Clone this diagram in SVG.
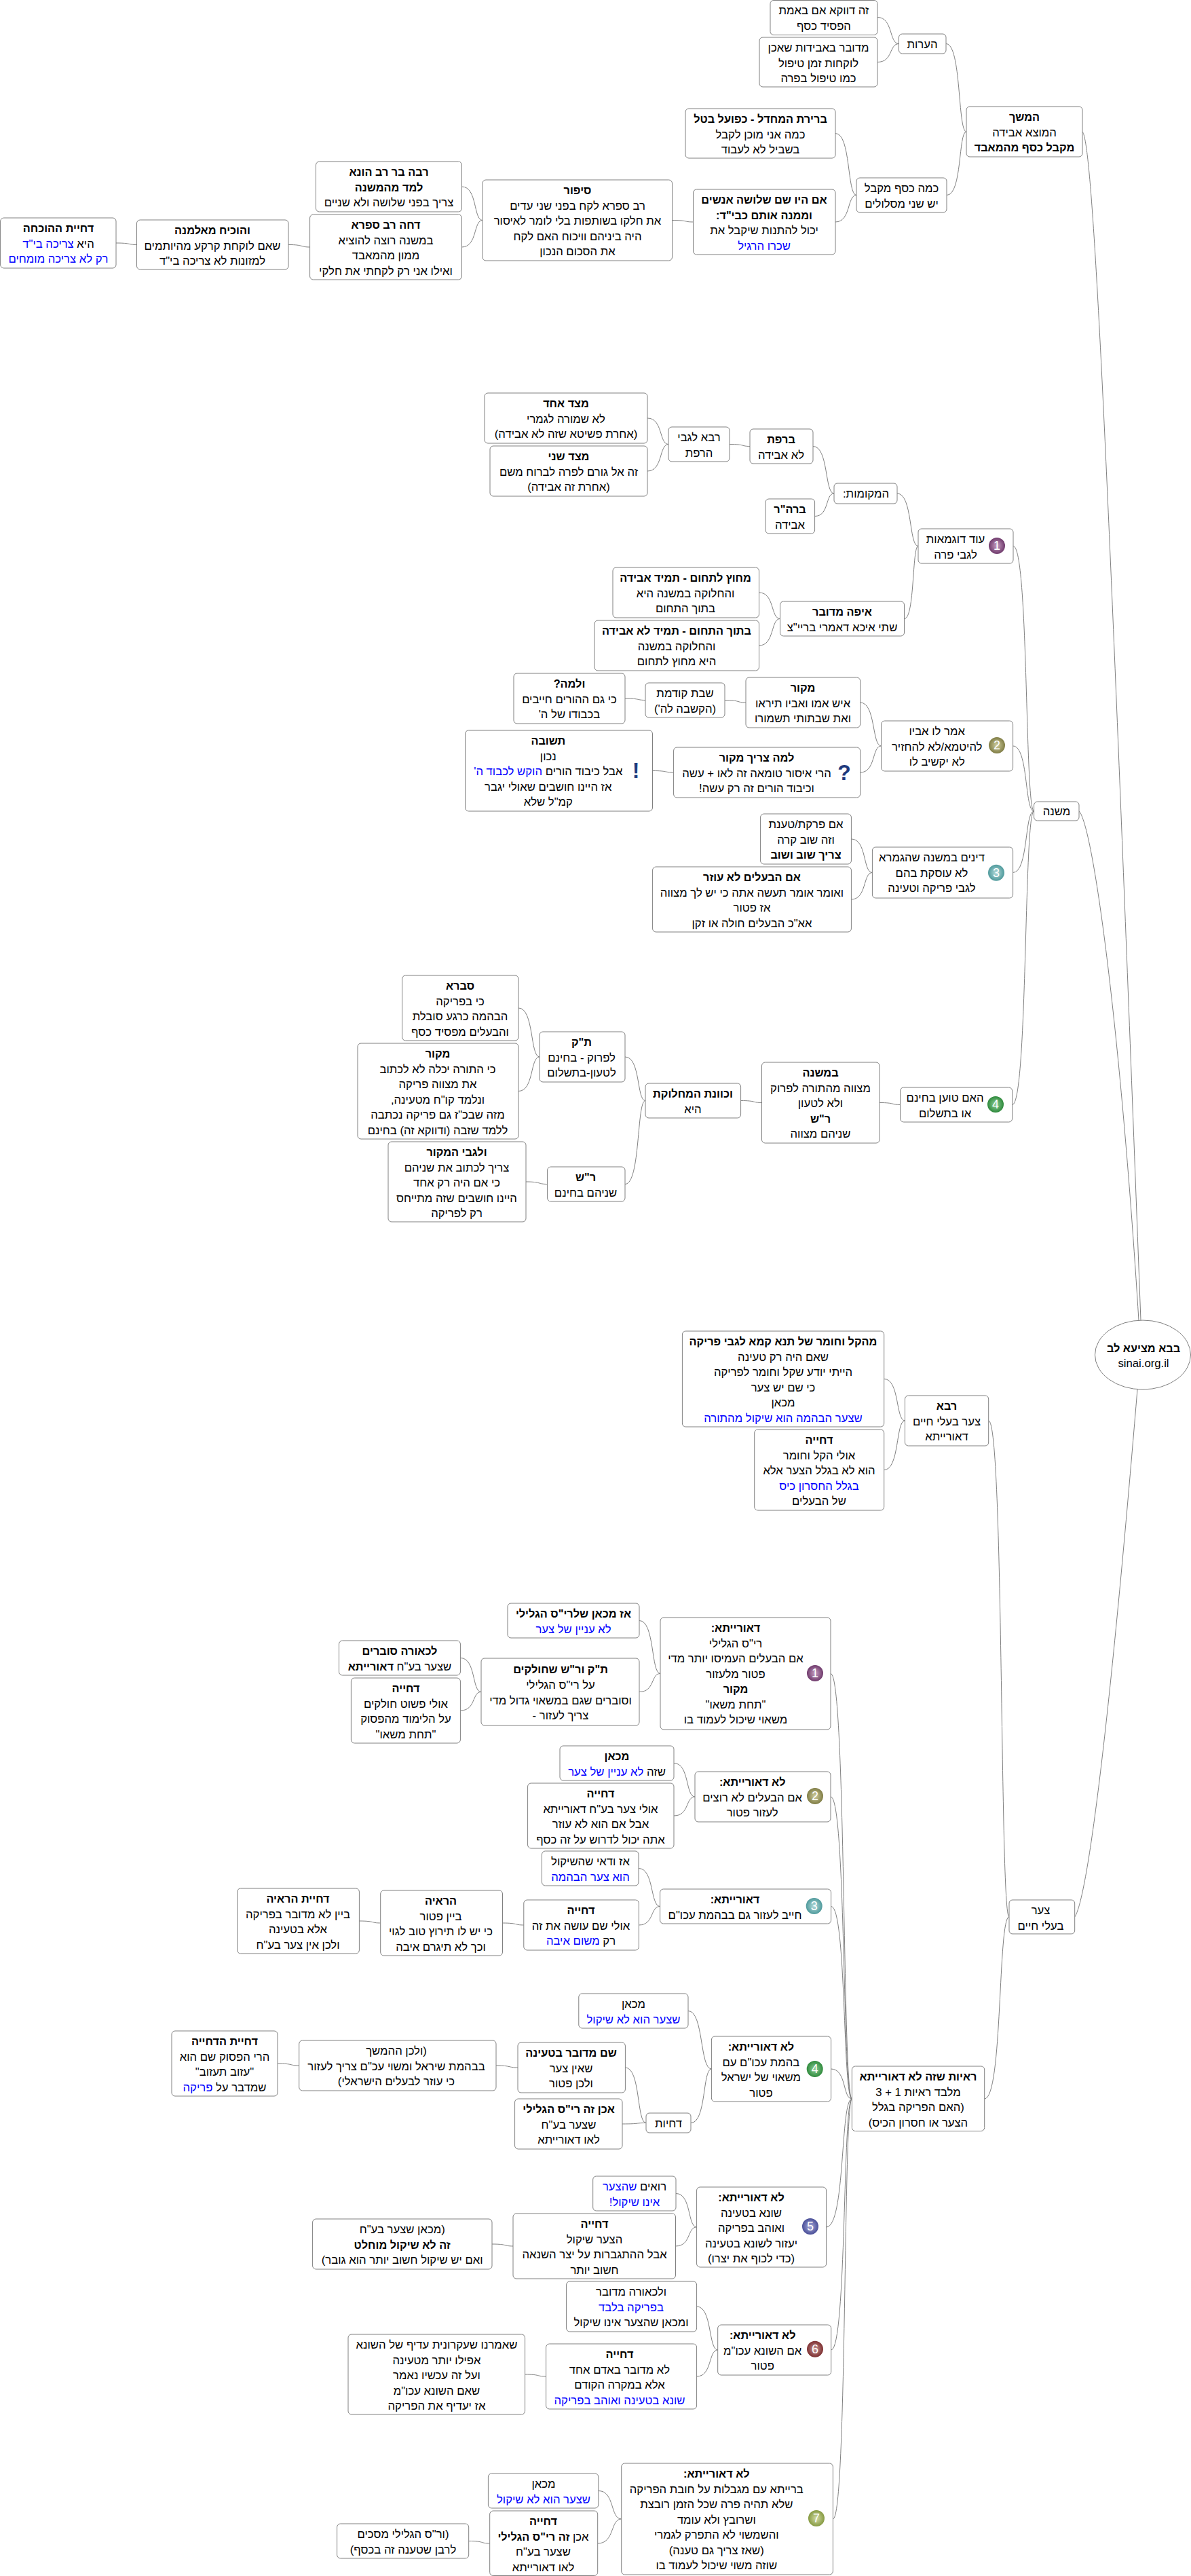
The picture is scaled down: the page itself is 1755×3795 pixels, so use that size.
<svg xmlns="http://www.w3.org/2000/svg" width="1755" height="3795" viewBox="0 0 1755 3795">
<style>
text{font-family:"Liberation Sans",Arial,sans-serif;font-size:16.7px;text-anchor:middle;direction:rtl;fill:#000}
rect.box,ellipse.box{fill:#fff;stroke:#808080;stroke-width:1}
.h{font-weight:bold;font-size:16.3px}
.u{fill:#0000ff}
#connectors path{fill:none;stroke:#808080;stroke-width:1}
text.d{font-size:18px;fill:#fff;direction:ltr}
text.m{font-size:32px;font-weight:bold;fill:#1f3a7d;direction:ltr}
</style>
<defs>
<radialGradient id="g1"><stop offset="0" stop-color="#c9a0c4"/><stop offset="1" stop-color="#6f3a6c"/></radialGradient>
<radialGradient id="g2"><stop offset="0" stop-color="#d0cfa0"/><stop offset="1" stop-color="#807d45"/></radialGradient>
<radialGradient id="g3"><stop offset="0" stop-color="#b5dcdc"/><stop offset="1" stop-color="#4f9a9c"/></radialGradient>
<radialGradient id="g4"><stop offset="0" stop-color="#8fd09a"/><stop offset="1" stop-color="#2f8a3c"/></radialGradient>
<radialGradient id="g5"><stop offset="0" stop-color="#a9addc"/><stop offset="1" stop-color="#4a4f98"/></radialGradient>
<radialGradient id="g6"><stop offset="0" stop-color="#c99a9a"/><stop offset="1" stop-color="#7d2f30"/></radialGradient>
<radialGradient id="g7"><stop offset="0" stop-color="#d3dca5"/><stop offset="1" stop-color="#869a42"/></radialGradient>
</defs>
<g id="connectors">
<path d="M1293 25.5C1316 25.5 1310 64.5 1324.5 64.5"/>
<path d="M1293 91.5C1316 91.5 1310 64.5 1324.5 64.5"/>
<path d="M1394 64.5C1417 64.5 1411 194 1424 194"/>
<path d="M1231 196.5C1254 196.5 1248 287.5 1262 287.5"/>
<path d="M1231 327C1254 327 1248 287.5 1262 287.5"/>
<path d="M1395 287.5C1418 287.5 1412 194 1424 194"/>
<path d="M990.5 324.5C1013.5 324.5 1007.5 327 1021.5 327"/>
<path d="M680.5 275C703.5 275 697.5 324.5 711 324.5"/>
<path d="M680.5 364C703.5 364 697.5 324.5 711 324.5"/>
<path d="M425 360.5C448 360.5 442 364 456.6 364"/>
<path d="M171 358C194 358 188 360.5 201.5 360.5"/>
<path d="M1595 194C1610 210 1630 600 1681 1945"/>
<path d="M1590 1195C1610 1215 1650 1500 1678 1945"/>
<path d="M1583.7 2824C1600 2800 1630 2600 1676 2047"/>
<path d="M954 616C977 616 971 654.5 985 654.5"/>
<path d="M954 694C977 694 971 654.5 985 654.5"/>
<path d="M1075 654.5C1098 654.5 1092 657.5 1105 657.5"/>
<path d="M1198 657.5C1221 657.5 1215 727 1229 727"/>
<path d="M1200.6 760.5C1222 760.5 1216 727 1229 727"/>
<path d="M1322 727C1345 727 1339 804.5 1353 804.5"/>
<path d="M1332.6 911.5C1348 911.5 1344 804.5 1353 804.5"/>
<path d="M1118.5 873C1141.5 873 1135.5 911.5 1149.5 911.5"/>
<path d="M1118.5 951C1141.5 951 1135.5 911.5 1149.5 911.5"/>
<path d="M1493 804.5C1516 804.5 1510 1195 1523.6 1195"/>
<path d="M921 1029C944 1029 938 1031.5 951 1031.5"/>
<path d="M1068 1031.5C1091 1031.5 1085 1035 1099 1035"/>
<path d="M1267.6 1035C1290.6 1035 1284.6 1099 1298.6 1099"/>
<path d="M1267.6 1138C1290.6 1138 1284.6 1099 1298.6 1099"/>
<path d="M961.6 1135.5C984.6 1135.5 978.6 1138 992.6 1138"/>
<path d="M1492.6 1099C1515.6 1099 1509.6 1195 1523.6 1195"/>
<path d="M1254.4 1236C1277.4 1236 1271.4 1285.5 1285.4 1285.5"/>
<path d="M1254.4 1325C1277.4 1325 1271.4 1285.5 1285.4 1285.5"/>
<path d="M1492.6 1285.5C1515.6 1285.5 1509.6 1195 1523.6 1195"/>
<path d="M764 1485C787 1485 781 1557 795 1557"/>
<path d="M764 1607.5C787 1607.5 781 1557 795 1557"/>
<path d="M921 1557C944 1557 938 1621.5 951 1621.5"/>
<path d="M921 1744.5C944 1744.5 938 1621.5 951 1621.5"/>
<path d="M775 1741C798 1741 792 1744.5 806.6 1744.5"/>
<path d="M1091.6 1621.5C1114.6 1621.5 1108.6 1624.5 1122.5 1624.5"/>
<path d="M1296 1624.5C1319 1624.5 1313 1627.5 1326.6 1627.5"/>
<path d="M1491.6 1627.5C1514.6 1627.5 1508.6 1195 1523.6 1195"/>
<path d="M1302.7 2031.5C1325.7 2031.5 1319.7 2093 1333.5 2093"/>
<path d="M1302.7 2165.5C1325.7 2165.5 1319.7 2093 1333.5 2093"/>
<path d="M1456.7 2093C1479.5 2093 1473 2824 1487 2824"/>
<path d="M942 2387.5C965 2387.5 959 2465.5 973 2465.5"/>
<path d="M942 2492.5C965 2492.5 959 2465.5 973 2465.5"/>
<path d="M678.4 2442.5C701.4 2442.5 695.4 2492.5 709 2492.5"/>
<path d="M678.4 2520C701.4 2520 695.4 2492.5 709 2492.5"/>
<path d="M1224 2465.5C1247 2465.5 1241 3092 1255.4 3092"/>
<path d="M993 2597.5C1016 2597.5 1010 2647 1024 2647"/>
<path d="M993 2675C1016 2675 1010 2647 1024 2647"/>
<path d="M1224 2647C1247 2647 1241 3092 1255.4 3092"/>
<path d="M941 2752.5C964 2752.5 958 2808.5 972.6 2808.5"/>
<path d="M941.4 2836C964 2836 958 2808.5 972.6 2808.5"/>
<path d="M529.4 2830C552.4 2830 546.4 2833 560.7 2833"/>
<path d="M740.5 2833C763.5 2833 757.5 2836 771.8 2836"/>
<path d="M1224.6 2808.5C1247.6 2808.5 1241.6 3092 1255.4 3092"/>
<path d="M1014 2962.5C1037 2962.5 1031 3048 1048.4 3048"/>
<path d="M1018 3127.5C1041 3127.5 1035 3048 1048.4 3048"/>
<path d="M921.4 3046C944 3046 938 3127.5 952 3127.5"/>
<path d="M917 3129C943 3129 936 3127.5 952 3127.5"/>
<path d="M731 3043C754 3043 748 3046 763 3046"/>
<path d="M409 3040C432 3040 426 3043 440.7 3043"/>
<path d="M1224.6 3048C1247.6 3048 1241.6 3092 1255.4 3092"/>
<path d="M996 3231.5C1019 3231.5 1013 3281 1026.6 3281"/>
<path d="M995.5 3309C1018.5 3309 1012.5 3281 1026.6 3281"/>
<path d="M725 3306C748 3306 742 3309 756 3309"/>
<path d="M1217.5 3281C1246 3281 1238 3092 1255.4 3092"/>
<path d="M1026.6 3398C1049.6 3398 1043.6 3462 1057.7 3462"/>
<path d="M1026.6 3501C1049.6 3501 1043.6 3462 1057.7 3462"/>
<path d="M773.6 3498C796.6 3498 790.6 3501 804.6 3501"/>
<path d="M1224.7 3462C1247.7 3462 1241.7 3092 1255.4 3092"/>
<path d="M1227.4 3711C1248.4 3711 1242.4 3092 1255.4 3092"/>
<path d="M881.8 3669.5C906 3669.5 899 3711 915.7 3711"/>
<path d="M880.7 3747C906 3747 899 3711 915.7 3711"/>
<path d="M690.7 3743.5C713.7 3743.5 707.7 3747 721.7 3747"/>
<path d="M1450.7 3092C1477.7 3092 1470.3 2824 1487 2824"/>
</g>
<g id="root"><ellipse class="box" cx="1684" cy="1996" rx="70.5" ry="51"/><text x="1685" y="1992"><tspan class="h" x="1685">בבא מציעא לב</tspan><tspan x="1685" dy="21.5" style="direction:ltr">sinai.org.il</tspan></text></g>

<g id="n1"><rect class="box" x="1135" y="0.5" width="158" height="51" rx="5"/><text y="21"><tspan x="1214">זה דווקא אם באמת</tspan><tspan x="1214" dy="22.5">הפסיד כסף</tspan></text></g>
<g id="n2"><rect class="box" x="1119" y="55" width="174" height="73" rx="5"/><text y="76"><tspan x="1206">מדובר באבידות שאכן</tspan><tspan x="1206" dy="22.5">לוקחות זמן טיפול</tspan><tspan x="1206" dy="22.5">כמו טיפול בפרה</tspan></text></g>
<g id="n3"><rect class="box" x="1324.5" y="50" width="69.5" height="29" rx="5"/><text y="71"><tspan x="1359">הערות</tspan></text></g>
<g id="n4"><rect class="box" x="1424" y="157" width="171" height="74" rx="5"/><text y="178"><tspan class="h" x="1509.5">המשך</tspan><tspan x="1509.5" dy="22.5">המוצא אבידה</tspan><tspan class="h" x="1509.5" dy="22.5">מקבל כסף מהמאבד</tspan></text></g>
<g id="n5"><rect class="box" x="1010" y="160" width="221" height="73" rx="5"/><text y="181"><tspan class="h" x="1120.5">ברירת המחדל - כפועל בטל</tspan><tspan x="1120.5" dy="22.5">כמה אני מוכן לקבל</tspan><tspan x="1120.5" dy="22.5">בשביל לא לעבוד</tspan></text></g>
<g id="n6"><rect class="box" x="1262" y="262" width="133" height="51" rx="5"/><text y="283"><tspan x="1328.5">כמה כסף מקבל</tspan><tspan x="1328.5" dy="22.5">יש שני מסלולים</tspan></text></g>
<g id="n7"><rect class="box" x="1021.5" y="279" width="209.5" height="96" rx="5"/><text y="300"><tspan class="h" x="1126">אם היו שם שלושה אנשים</tspan><tspan class="h" x="1126" dy="22.5">וממנה אותם כבי"ד:</tspan><tspan x="1126" dy="22.5">יכול להתנות שיקבל את</tspan><tspan class="u" x="1126" dy="22.5">שכרו הרגיל</tspan></text></g>
<g id="n8"><rect class="box" x="711" y="265" width="279.5" height="119" rx="5"/><text y="286"><tspan class="h" x="851">סיפור</tspan><tspan x="851" dy="22.5">רב ספרא לקח בפני שני עדים</tspan><tspan x="851" dy="22.5">את חלקו בשותפות בלי לומר לאיסור</tspan><tspan x="851" dy="22.5">היה ביניהם וויכוח האם לקח</tspan><tspan x="851" dy="22.5">את הסכום הנכון</tspan></text></g>
<g id="n9"><rect class="box" x="465.5" y="238" width="215" height="74" rx="5"/><text y="259"><tspan class="h" x="573">רבה בר רב הונא</tspan><tspan class="h" x="573" dy="22.5">למד מהמשנה</tspan><tspan x="573" dy="22.5">צריך בפני שלושה ולא שניים</tspan></text></g>
<g id="n10"><rect class="box" x="456.6" y="316" width="223.9" height="96" rx="5"/><text y="337"><tspan class="h" x="568.5">דחה רב ספרא</tspan><tspan x="568.5" dy="22.5">במשנה רוצה להוציא</tspan><tspan x="568.5" dy="22.5">ממון מהמאבד</tspan><tspan x="568.5" dy="22.5">ואילו אני רק לקחתי את חלקי</tspan></text></g>
<g id="n11"><rect class="box" x="201.5" y="324" width="223.5" height="73" rx="5"/><text y="345"><tspan class="h" x="313">והוכיח מאלמנה</tspan><tspan x="313" dy="22.5">שאם לוקחת קרקע מהיותמים</tspan><tspan x="313" dy="22.5">למזונות לא צריכה בי"ד</tspan></text></g>
<g id="n12"><rect class="box" x="0.6" y="321" width="170.4" height="74" rx="5"/><text y="342"><tspan class="h" x="86">דחיית ההוכחה</tspan><tspan x="86" dy="22.5">היא <tspan class="u">צריכה בי"ד</tspan></tspan><tspan class="u" x="86" dy="22.5">רק לא צריכה מומחים</tspan></text></g>

<g id="n13"><rect class="box" x="714" y="579" width="240" height="74" rx="5"/><text y="600"><tspan class="h" x="834">מצד אחד</tspan><tspan x="834" dy="22.5">לא שמורה לגמרי</tspan><tspan x="834" dy="22.5">(אחרת פשיטא שזה לא אבידה)</tspan></text></g>
<g id="n14"><rect class="box" x="722" y="657" width="232" height="74" rx="5"/><text y="678"><tspan class="h" x="838">מצד שני</tspan><tspan x="838" dy="22.5">זה אל גורם לפרה לברוח משם</tspan><tspan x="838" dy="22.5">(אחרת זה אבידה)</tspan></text></g>
<g id="n15"><rect class="box" x="985" y="629" width="90" height="51" rx="5"/><text y="650"><tspan x="1030">רבא לגבי</tspan><tspan x="1030" dy="22.5">הרפת</tspan></text></g>
<g id="n16"><rect class="box" x="1105" y="632" width="93" height="51" rx="5"/><text y="653"><tspan class="h" x="1151">ברפת</tspan><tspan x="1151" dy="22.5">לא אבידה</tspan></text></g>
<g id="n17"><rect class="box" x="1128" y="735" width="72.6" height="51" rx="5"/><text y="756"><tspan class="h" x="1164">ברה"ר</tspan><tspan x="1164" dy="22.5">אבידה</tspan></text></g>
<g id="n18"><rect class="box" x="1229" y="712" width="93" height="30" rx="5"/><text y="733"><tspan x="1276">המקומות:</tspan></text></g>
<g id="n19"><rect class="box" x="1353" y="779" width="140" height="51" rx="5"/><text y="800"><tspan x="1408">עוד דוגמאות</tspan><tspan x="1408" dy="22.5">לגבי פרה</tspan></text><circle cx="1469" cy="804" r="12" fill="url(#g1)"/><text class="d" x="1469" y="810">1</text></g>
<g id="n20"><rect class="box" x="903" y="836" width="215.5" height="74" rx="5"/><text y="857"><tspan class="h" x="1010">מחוץ לתחום - תמיד אבידה</tspan><tspan x="1010" dy="22.5">והחלוקה במשנה היא</tspan><tspan x="1010" dy="22.5">בתוך התחום</tspan></text></g>
<g id="n21"><rect class="box" x="876" y="914" width="242.5" height="74" rx="5"/><text y="935"><tspan class="h" x="997">בתוך התחום - תמיד לא אבידה</tspan><tspan x="997" dy="22.5">והחלוקה במשנה</tspan><tspan x="997" dy="22.5">היא מחוץ לתחום</tspan></text></g>
<g id="n22"><rect class="box" x="1149.5" y="886" width="183" height="51" rx="5"/><text y="907"><tspan class="h" x="1241">איפה מדובר</tspan><tspan x="1241" dy="22.5">שתי איכא דאמרי בריי"צ</tspan></text></g>

<g id="n23"><rect class="box" x="757" y="992" width="164" height="74" rx="5"/><text y="1013"><tspan class="h" x="839">ולמה?</tspan><tspan x="839" dy="22.5">כי גם ההורים חייבים</tspan><tspan x="839" dy="22.5">בכבודו של ה'</tspan></text></g>
<g id="n24"><rect class="box" x="951" y="1006" width="117" height="51" rx="5"/><text y="1027"><tspan x="1009.5">שבת קודמת</tspan><tspan x="1009.5" dy="22.5">(הקשבה לה')</tspan></text></g>
<g id="n25"><rect class="box" x="1099" y="998" width="168.6" height="74" rx="5"/><text y="1019"><tspan class="h" x="1183">מקור</tspan><tspan x="1183" dy="22.5">איש אמו ואביו תיראו</tspan><tspan x="1183" dy="22.5">ואת שבתותי תשמורו</tspan></text></g>
<g id="n26"><rect class="box" x="1298.6" y="1062" width="194" height="74" rx="5"/><text y="1083"><tspan x="1380.7">אמר לו אביו</tspan><tspan x="1380.7" dy="22.5">להיטמא/לא להחזיר</tspan><tspan x="1380.7" dy="22.5">לא יקשיב לו</tspan></text><circle cx="1469" cy="1098" r="12" fill="url(#g2)"/><text class="d" x="1469" y="1104">2</text></g>
<g id="n27"><rect class="box" x="685.5" y="1076" width="276" height="119" rx="5"/><text y="1097"><tspan class="h" x="807.8">תשובה</tspan><tspan x="807.8" dy="22.5">נכון</tspan><tspan x="807.8" dy="22.5">אבל כיבוד הורים <tspan class="u">הוקש לכבוד ה'</tspan></tspan><tspan x="807.8" dy="22.5">אז היינו חושבים שאולי יגבר</tspan><tspan x="807.8" dy="22.5">קמ"ל שלא</tspan></text><text class="m" x="937" y="1146">!</text></g>
<g id="n28"><rect class="box" x="992.6" y="1101" width="275" height="74" rx="5"/><text y="1122"><tspan class="h" x="1115">למה צריך מקור</tspan><tspan x="1115" dy="22.5">הרי איסור טומאה זה לאו + עשה</tspan><tspan x="1115" dy="22.5">וכיבוד הורים זה רק עשה!</tspan></text><text class="m" x="1244" y="1149">?</text></g>
<g id="n29"><rect class="box" x="1120.6" y="1199" width="133.8" height="74" rx="5"/><text y="1220"><tspan x="1187.5">אם פרקת/טענת</tspan><tspan x="1187.5" dy="22.5">וזה שוב קרה</tspan><tspan class="h" x="1187.5" dy="22.5">צריך שוב ושוב</tspan></text></g>
<g id="n30"><rect class="box" x="961.6" y="1277" width="292.8" height="96" rx="5"/><text y="1298"><tspan class="h" x="1108">אם הבעלים לא עוזר</tspan><tspan x="1108" dy="22.5">ואומר אומר תעשה אתה כי יש לך מצווה</tspan><tspan x="1108" dy="22.5">אז פטור</tspan><tspan x="1108" dy="22.5">אא"כ הבעלים חולה או זקן</tspan></text></g>
<g id="n31"><rect class="box" x="1285.4" y="1248" width="207.2" height="75" rx="5"/><text y="1269"><tspan x="1373">דינים במשנה שהגמרא</tspan><tspan x="1373" dy="22.5">לא עוסקת בהם</tspan><tspan x="1373" dy="22.5">לגבי  פריקה וטעינה</tspan></text><circle cx="1468" cy="1285.7" r="12" fill="url(#g3)"/><text class="d" x="1468" y="1292">3</text></g>
<g id="n32"><rect class="box" x="1523.6" y="1181" width="66.4" height="28" rx="5"/><text y="1201"><tspan x="1557">משנה</tspan></text></g>

<g id="n33"><rect class="box" x="592.6" y="1437" width="171.4" height="96" rx="5"/><text y="1458"><tspan class="h" x="678">סברא</tspan><tspan x="678" dy="22.5">כי בפריקה</tspan><tspan x="678" dy="22.5">הבהמה כרגע סובלת</tspan><tspan x="678" dy="22.5">והבעלים מפסיד כסף</tspan></text></g>
<g id="n34"><rect class="box" x="527" y="1537" width="237" height="141" rx="5"/><text y="1558"><tspan class="h" x="645">מקור</tspan><tspan x="645" dy="22.5">כי התורה יכלה לא לכתוב</tspan><tspan x="645" dy="22.5">את מצווה פריקה</tspan><tspan x="645" dy="22.5">ונלמד קו"ח מטעינה,</tspan><tspan x="645" dy="22.5">מזה שבכ"ז גם פריקה נכתבה</tspan><tspan x="645" dy="22.5">ללמד שזבה (ודווקא זה) בחינם</tspan></text></g>
<g id="n35"><rect class="box" x="795" y="1520" width="126" height="74" rx="5"/><text y="1541"><tspan class="h" x="857">ת"ק</tspan><tspan x="857" dy="22.5">לפרוק - בחינם</tspan><tspan x="857" dy="22.5">לטעון-בתשלום</tspan></text></g>
<g id="n36"><rect class="box" x="572" y="1682" width="203" height="118" rx="5"/><text y="1703"><tspan class="h" x="673">ולגבי המקור</tspan><tspan x="673" dy="22.5">צריך לכתוב את שניהם</tspan><tspan x="673" dy="22.5">כי אם היה רק אחד</tspan><tspan x="673" dy="22.5">היינו חושבים שזה מתייחס</tspan><tspan x="673" dy="22.5">רק לפריקה</tspan></text></g>
<g id="n37"><rect class="box" x="806.6" y="1719" width="114.4" height="51" rx="5"/><text y="1740"><tspan class="h" x="863">ר"ש</tspan><tspan x="863" dy="22.5">שניהם בחינם</tspan></text></g>
<g id="n38"><rect class="box" x="951" y="1596" width="140.6" height="51" rx="5"/><text y="1617"><tspan class="h" x="1021">וכוונת המחלוקת</tspan><tspan x="1021" dy="22.5">היא</tspan></text></g>
<g id="n39"><rect class="box" x="1122.5" y="1565" width="173.5" height="119" rx="5"/><text y="1586"><tspan class="h" x="1209">במשנה</tspan><tspan x="1209" dy="22.5">מצווה מהתורה לפרוק</tspan><tspan x="1209" dy="22.5">ולא לטעון</tspan><tspan class="h" x="1209" dy="22.5">ר"ש</tspan><tspan x="1209" dy="22.5">שניהם מצווה</tspan></text></g>
<g id="n40"><rect class="box" x="1326.6" y="1602" width="165" height="51" rx="5"/><text y="1623"><tspan x="1392.6">האם טוען בחינם</tspan><tspan x="1392.6" dy="22.5">או בתשלום</tspan></text><circle cx="1467" cy="1627" r="12" fill="url(#g4)"/><text class="d" x="1467" y="1633">4</text></g>

<g id="n41"><rect class="box" x="1005.4" y="1961" width="297.3" height="141" rx="5"/><text y="1982"><tspan class="h" x="1154">מהקל וחומר של תנא קמא לגבי פריקה</tspan><tspan x="1154" dy="22.5">שאם היה רק טעינה</tspan><tspan x="1154" dy="22.5">הייתי יודע שקל וחומר לפריקה</tspan><tspan x="1154" dy="22.5">כי שם יש צער</tspan><tspan x="1154" dy="22.5">מכאן</tspan><tspan class="u" x="1154" dy="22.5">שצער הבהמה הוא שיקול מהתורה</tspan></text></g>
<g id="n42"><rect class="box" x="1111.7" y="2106" width="191" height="119" rx="5"/><text y="2127"><tspan class="h" x="1207">דחייה</tspan><tspan x="1207" dy="22.5">אולי הקל וחומר</tspan><tspan x="1207" dy="22.5">הוא לא בגלל הצער אלא</tspan><tspan class="u" x="1207" dy="22.5">בגלל החסרון כיס</tspan><tspan x="1207" dy="22.5">של הבעלים</tspan></text></g>
<g id="n43"><rect class="box" x="1333.5" y="2056" width="123.2" height="74" rx="5"/><text y="2077"><tspan class="h" x="1395">רבא</tspan><tspan x="1395" dy="22.5">צער בעלי חיים</tspan><tspan x="1395" dy="22.5">דאורייתא</tspan></text></g>

<g id="n44"><rect class="box" x="748" y="2362" width="194" height="51" rx="5"/><text y="2383"><tspan class="h" x="845">אז מכאן שלרי"ס הגלילי</tspan><tspan class="u" x="845" dy="22.5">לא עניין של צער</tspan></text></g>
<g id="n45"><rect class="box" x="499.5" y="2417" width="178.9" height="51" rx="5"/><text y="2438"><tspan class="h" x="589">לכאורה סוברים</tspan><tspan x="589" dy="22.5">שצער בע"ח <tspan class="h">דאורייתא</tspan></tspan></text></g>
<g id="n46"><rect class="box" x="517.4" y="2472" width="161" height="96" rx="5"/><text y="2493"><tspan class="h" x="598">דחייה</tspan><tspan x="598" dy="22.5">אולי פשוט חולקים</tspan><tspan x="598" dy="22.5">על הלימוד מהפסוק</tspan><tspan x="598" dy="22.5">"תחת משאו"</tspan></text></g>
<g id="n47"><rect class="box" x="709" y="2443" width="233" height="99" rx="5"/><text y="2465"><tspan class="h" x="826">ת"ק ור"ש שחולקים</tspan><tspan x="826" dy="22.5">על רי"ס הגלילי</tspan><tspan x="826" dy="23">וסוברים שגם במשאוי גדול מדי</tspan><tspan x="826" dy="22.5">צריך לעזור -</tspan></text></g>
<g id="n48"><rect class="box" x="973" y="2383" width="251" height="165" rx="5"/><text y="2404"><tspan class="h" x="1084">דאורייתא:</tspan><tspan x="1084" dy="22.5">רי"ס הגלילי</tspan><tspan x="1084" dy="22.5">אם הבעלים העמיסו יותר מדי</tspan><tspan x="1084" dy="22.5">פטור מלעזור</tspan><tspan class="h" x="1084" dy="22.5">מקור</tspan><tspan x="1084" dy="22.5">"תחת משאו"</tspan><tspan x="1084" dy="22.5">משאוי שיכול לעמוד בו</tspan></text><circle cx="1201" cy="2465" r="12" fill="url(#g1)"/><text class="d" x="1201" y="2471">1</text></g>
<g id="n49"><rect class="box" x="825" y="2572" width="168" height="51" rx="5"/><text y="2593"><tspan class="h" x="909">מכאן</tspan><tspan x="909" dy="22.5">שזה <tspan class="u">לא עניין של צער</tspan></tspan></text></g>
<g id="n50"><rect class="box" x="777.6" y="2627" width="215.4" height="96" rx="5"/><text y="2648"><tspan class="h" x="885">דחייה</tspan><tspan x="885" dy="22.5">אולי צער בע"ח דאורייתא</tspan><tspan x="885" dy="22.5">אבל אם הוא לא עוזר</tspan><tspan x="885" dy="22.5">אתה יכול לדרוש על זה כסף</tspan></text></g>
<g id="n51"><rect class="box" x="1024" y="2610" width="200" height="74" rx="5"/><text y="2631"><tspan class="h" x="1108.7">לא דאורייתא:</tspan><tspan x="1108.7" dy="22.5">אם הבעלים לא רוצים</tspan><tspan x="1108.7" dy="22.5">לעזור פטור</tspan></text><circle cx="1201" cy="2646" r="12" fill="url(#g2)"/><text class="d" x="1201" y="2652">2</text></g>
<g id="n52"><rect class="box" x="798.5" y="2727" width="142.5" height="51" rx="5"/><text y="2748"><tspan x="870">אז ודאי שהשיקול</tspan><tspan class="u" x="870" dy="22.5">הוא צער הבהמה</tspan></text></g>
<g id="n53"><rect class="box" x="349.6" y="2782" width="179.8" height="96" rx="5"/><text y="2803"><tspan class="h" x="439">דחיית הראיה</tspan><tspan x="439" dy="22.5">ביין לא מדובר בפריקה</tspan><tspan x="439" dy="22.5">אלא בטעינה</tspan><tspan x="439" dy="22.5">ולכן אין צער בע"ח</tspan></text></g>
<g id="n54"><rect class="box" x="560.7" y="2785" width="179.8" height="96" rx="5"/><text y="2806"><tspan class="h" x="649.5">הראיה</tspan><tspan x="649.5" dy="22.5">ביין פטור</tspan><tspan x="649.5" dy="22.5">כי יש לו תירוץ טוב לגוי</tspan><tspan x="649.5" dy="22.5">וכך לא תיגרם איבה</tspan></text></g>
<g id="n55"><rect class="box" x="771.8" y="2799" width="169.6" height="74" rx="5"/><text y="2820"><tspan class="h" x="856">דחייה</tspan><tspan x="856" dy="22.5">אולי שם עושה את זה</tspan><tspan x="856" dy="22.5">רק <tspan class="u">משום איבה</tspan></tspan></text></g>
<g id="n56"><rect class="box" x="972.6" y="2783" width="252" height="51" rx="5"/><text y="2804"><tspan class="h" x="1083">דאורייתא:</tspan><tspan x="1083" dy="22.5">חייב לעזור גם בבהמת עכו"ם</tspan></text><circle cx="1199.7" cy="2808" r="12" fill="url(#g3)"/><text class="d" x="1199.7" y="2814">3</text></g>
<g id="n57"><rect class="box" x="852.8" y="2937" width="161.2" height="51" rx="5"/><text y="2958"><tspan x="933.5">מכאן</tspan><tspan class="u" x="933.5" dy="22.5">שצער הוא לא שיקול</tspan></text></g>
<g id="n58"><rect class="box" x="253" y="2992" width="156" height="96" rx="5"/><text y="3013"><tspan class="h" x="331">דחיית הדחייה</tspan><tspan x="331" dy="22.5">הרי הפסוק שם הוא</tspan><tspan x="331" dy="22.5">"עזוב תעזוב"</tspan><tspan x="331" dy="22.5">שמדבר על <tspan class="u">פריקה</tspan></tspan></text></g>
<g id="n59"><rect class="box" x="440.7" y="3006" width="290.3" height="74" rx="5"/><text y="3027"><tspan x="584">(ולכן ההמשך</tspan><tspan x="584" dy="22.5">בבהמת שיראל ומשוי עכ"ם צריך לעזור</tspan><tspan x="584" dy="22.5">כי עוזר לבעלים הישראלי)</tspan></text></g>
<g id="n60"><rect class="box" x="763" y="3009" width="158.4" height="74" rx="5"/><text y="3030"><tspan class="h" x="841.5">שם מדובר בטעינה</tspan><tspan x="841.5" dy="22.5">שאין צער</tspan><tspan x="841.5" dy="22.5">ולכן פטור</tspan></text></g>
<g id="n61"><rect class="box" x="758.6" y="3092" width="158.4" height="74" rx="5"/><text y="3113"><tspan class="h" x="838">אכן זה רי"ס הגלילי</tspan><tspan x="838" dy="22.5">שצער בע"ח</tspan><tspan x="838" dy="22.5">לאו דאורייתא</tspan></text></g>
<g id="n62"><rect class="box" x="952" y="3113" width="66" height="29" rx="5"/><text y="3134"><tspan x="985">דחיות</tspan></text></g>
<g id="n63"><rect class="box" x="1048.4" y="3000" width="176.2" height="96" rx="5"/><text y="3021"><tspan class="h" x="1121.4">לא דאורייתא:</tspan><tspan x="1121.4" dy="22.5">בהמת עכו"ם עם</tspan><tspan x="1121.4" dy="22.5">משאוי של ישראל</tspan><tspan x="1121.4" dy="22.5">פטור</tspan></text><circle cx="1200.7" cy="3048" r="12" fill="url(#g4)"/><text class="d" x="1200.7" y="3054">4</text></g>
<g id="n64"><rect class="box" x="1255.4" y="3044" width="195.3" height="95.5" rx="5"/><text y="3065"><tspan class="h" x="1353">ראיות שזה לא דאורייתא</tspan><tspan x="1353" dy="22.5">מלבד ראיות 1 + 3</tspan><tspan x="1353" dy="22.5">(האם הפריקה בגלל</tspan><tspan x="1353" dy="22.5">הצער או חסרון הכיס)</tspan></text></g>
<g id="n65"><rect class="box" x="1487" y="2799" width="96.7" height="50" rx="5"/><text y="2820"><tspan x="1533.5">צער</tspan><tspan x="1533.5" dy="22.5">בעלי חיים</tspan></text></g>
<g id="n66"><rect class="box" x="873.7" y="3206" width="122.3" height="51" rx="5"/><text y="3227"><tspan x="935">רואים <tspan class="u">שהצער</tspan></tspan><tspan class="u" x="935" dy="22.5">אינו שיקול!</tspan></text></g>
<g id="n67"><rect class="box" x="1026.6" y="3222" width="191" height="118" rx="5"/><text y="3243"><tspan class="h" x="1107">לא דאורייתא:</tspan><tspan x="1107" dy="22.5">שונא בטעינה</tspan><tspan x="1107" dy="22.5">ואוהב בפריקה</tspan><tspan x="1107" dy="22.5">יעזור לשונא בטעינה</tspan><tspan x="1107" dy="22.5">(כדי לכוף את יצרו)</tspan></text><circle cx="1194" cy="3280" r="12" fill="url(#g5)"/><text class="d" x="1194" y="3286">5</text></g>
<g id="n68"><rect class="box" x="460.6" y="3269" width="264.4" height="74" rx="5"/><text y="3290"><tspan x="592.7">(מכאן שצער בע"ח</tspan><tspan class="h" x="592.7" dy="22.5">זה לא שיקול מוחלט</tspan><tspan x="592.7" dy="22.5">ואם יש שיקול חשוב יותר הוא גובר)</tspan></text></g>
<g id="n69"><rect class="box" x="756" y="3261" width="239.5" height="96" rx="5"/><text y="3282"><tspan class="h" x="876">דחייה</tspan><tspan x="876" dy="22.5">הצער שיקול</tspan><tspan x="876" dy="22.5">אבל ההתגברות על יצר השנאה</tspan><tspan x="876" dy="22.5">חשוב יותר</tspan></text></g>
<g id="n70"><rect class="box" x="834.6" y="3361" width="192" height="74" rx="5"/><text y="3382"><tspan x="930">ולכאורה מדובר</tspan><tspan class="u" x="930" dy="22.5">בפריקה בלבד</tspan><tspan x="930" dy="22.5">ומכאן שהצער אינו שיקול</tspan></text></g>
<g id="n71"><rect class="box" x="513" y="3439" width="260.6" height="118" rx="5"/><text y="3460"><tspan x="643.5">שאמרנו שעקרונית עדיף של השונא</tspan><tspan x="643.5" dy="22.5">אפילו יותר מטעינה</tspan><tspan x="643.5" dy="22.5">ועל זה עכשיו נאמר</tspan><tspan x="643.5" dy="22.5">שאם השונא עכו"מ</tspan><tspan x="643.5" dy="22.5">אז יעדיף את הפריקה</tspan></text></g>
<g id="n72"><rect class="box" x="804.6" y="3453" width="222" height="96" rx="5"/><text y="3474"><tspan class="h" x="913">דחייה</tspan><tspan x="913" dy="22.5">לא מדובר באדם אחד</tspan><tspan x="913" dy="22.5">אלא במקרה הקודם</tspan><tspan class="u" x="913" dy="22.5">שונא בטעינה ואוהב בפריקה</tspan></text></g>
<g id="n73"><rect class="box" x="1057.7" y="3425" width="167" height="74" rx="5"/><text y="3446"><tspan class="h" x="1123.7">לא דאורייתא:</tspan><tspan x="1123.7" dy="22.5">אם השונא עכו"מ</tspan><tspan x="1123.7" dy="22.5">פטור</tspan></text><circle cx="1201" cy="3460.7" r="12" fill="url(#g6)"/><text class="d" x="1201" y="3467">6</text></g>
<g id="n74"><rect class="box" x="915.7" y="3629" width="311.7" height="164" rx="5"/><text y="3650"><tspan class="h" x="1055.8">לא דאורייתא:</tspan><tspan x="1055.8" dy="22.5">ברייתא עם מגבלות על חובת הפריקה</tspan><tspan x="1055.8" dy="22.5">שלא תהיה פרה שכל הזמן רובצת</tspan><tspan x="1055.8" dy="22.5">ושרובץ ולא עומד</tspan><tspan x="1055.8" dy="22.5">והשמשוי לא התפרק לגמרי</tspan><tspan x="1055.8" dy="22.5">(שאז צריך גם טענה)</tspan><tspan x="1055.8" dy="22.5">שוזה משוי שיכול לעמוד בו</tspan></text><circle cx="1203" cy="3710" r="12" fill="url(#g7)"/><text class="d" x="1203" y="3716">7</text></g>
<g id="n75"><rect class="box" x="719.4" y="3644" width="162.4" height="51" rx="5"/><text y="3665"><tspan x="801">מכאן</tspan><tspan class="u" x="801" dy="22.5">שצער הוא לא שיקול</tspan></text></g>
<g id="n76"><rect class="box" x="721.7" y="3699" width="159" height="95.5" rx="5"/><text y="3720"><tspan class="h" x="800.5">דחייה</tspan><tspan x="800.5" dy="22.5">אכן <tspan class="h">זה רי"ס הגלילי</tspan></tspan><tspan x="800.5" dy="22.5">שצער בע"ח</tspan><tspan x="800.5" dy="22.5">לאו דאורייתא</tspan></text></g>
<g id="n77"><rect class="box" x="496.6" y="3718" width="194.1" height="51" rx="5"/><text y="3739"><tspan x="594">(ור"ס הגלילי מסכים</tspan><tspan x="594" dy="22.5">לרבן שטענה זה בכסף)</tspan></text></g>
</svg>
